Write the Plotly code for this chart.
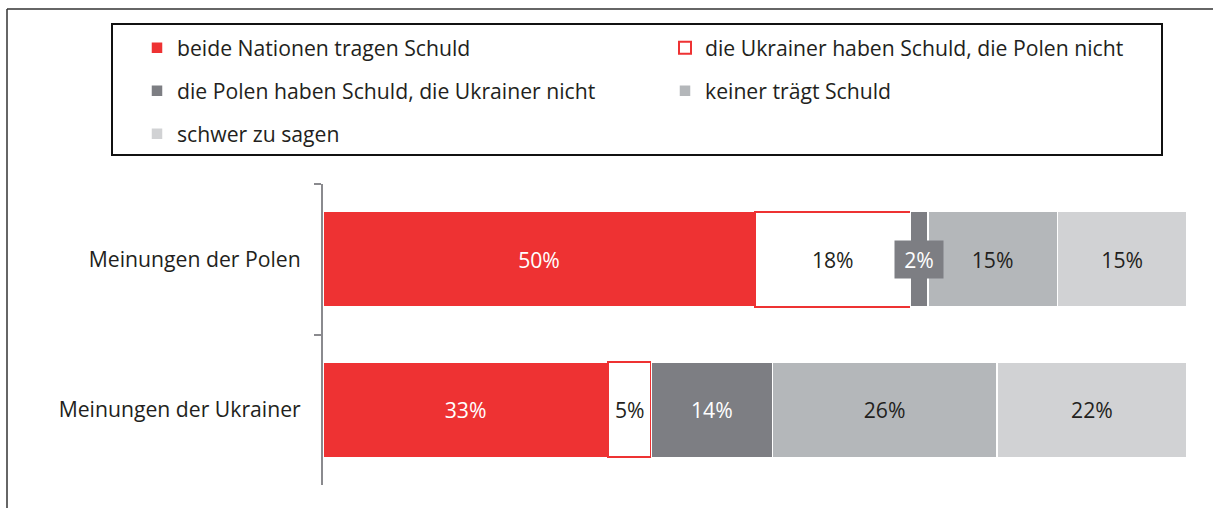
import plotly.graph_objects as go

categories = ["Meinungen der Polen", "Meinungen der Ukrainer"]
series_names = [
    "beide Nationen tragen Schuld",
    "die Ukrainer haben Schuld, die Polen nicht",
    "die Polen haben Schuld, die Ukrainer nicht",
    "keiner trägt Schuld",
    "schwer zu sagen",
]
values = [
    [50, 33],
    [18, 5],
    [2, 14],
    [15, 26],
    [15, 22],
]
fill_colors = ["#EE3233", "#FFFFFF", "#7D7E83", "#B4B7BA", "#D1D2D4"]
line_colors = ["#FFFFFF", "#EE3233", "#FFFFFF", "#FFFFFF", "#FFFFFF"]
line_widths = [1.5, 2, 1.5, 1.5, 1.5]
text_colors = ["#FFFFFF", "#231F20", "#FFFFFF", "#231F20", "#231F20"]
legend_ids = ["legend", "legend", "legend2", "legend2", "legend3"]

FONT = "Open Sans"
FS = 21.2
W, H = 1213, 508
L, R, T, B = 323, 26, 184, 23
PW, PH = W - L - R, H - T - B


def px_x(px):
    return (px - L) / PW


def px_y(py):
    return (H - B - py) / PH


fig = go.Figure()
small_labels = []
for i, name in enumerate(series_names):
    vals = values[i]
    texts = []
    for j, v in enumerate(vals):
        if v < 3:
            texts.append("")
            base = sum(values[k][j] for k in range(i))
            small_labels.append((base + v / 2, categories[j], f"{v}%", fill_colors[i], text_colors[i]))
        else:
            texts.append(f"{v}%")
    fig.add_trace(go.Bar(
        name=name,
        y=categories,
        x=vals,
        orientation="h",
        text=texts,
        textposition="inside",
        insidetextanchor="middle",
        textangle=0,
        textfont=dict(family=FONT, size=FS, color=text_colors[i]),
        marker=dict(color=fill_colors[i], line=dict(color=line_colors[i], width=line_widths[i])),
        legend=legend_ids[i],
        hoverinfo="skip",
    ))

for x, y, t, bg, fc in small_labels:
    fig.add_annotation(
        x=x, y=y, xref="x", yref="y", text=t, showarrow=False,
        font=dict(family=FONT, size=FS, color=fc),
        bgcolor=bg, width=48, height=37, borderpad=0,
    )

legend_common = dict(
    orientation="h",
    xanchor="left",
    yanchor="middle",
    x=px_x(137),
    entrywidth=483,
    entrywidthmode="pixels",
    font=dict(family=FONT, size=FS, color="#231F20"),
    bgcolor="rgba(0,0,0,0)",
    borderwidth=0,
    traceorder="normal",
)

fig.update_layout(
    width=W, height=H,
    margin=dict(l=L, r=R, t=T, b=B, autoexpand=False),
    paper_bgcolor="white",
    plot_bgcolor="white",
    barmode="stack",
    bargap=0.367,
    uniformtext=dict(minsize=FS, mode="show"),
    font=dict(family=FONT, size=FS, color="#231F20"),
    showlegend=True,
    legend=dict(legend_common, y=px_y(48)),
    legend2=dict(legend_common, y=px_y(91)),
    legend3=dict(legend_common, y=px_y(134)),
    xaxis=dict(range=[0, 100], visible=False, fixedrange=True),
    yaxis=dict(
        autorange="reversed",
        showline=True, linecolor="#8A8A8E", linewidth=2,
        ticks="outside", tickson="boundaries", ticklen=7, tickcolor="#8A8A8E", tickwidth=2,
        tickfont=dict(family=FONT, size=FS, color="#231F20"),
        ticklabelstandoff=16,
        showgrid=False, zeroline=False,
    ),
    shapes=[
        dict(type="rect", xref="paper", yref="paper",
             x0=px_x(112), x1=px_x(1162), y0=px_y(24), y1=px_y(155),
             line=dict(color="#111111", width=2), fillcolor="rgba(0,0,0,0)", layer="below"),
        dict(type="line", xref="paper", yref="paper",
             x0=px_x(7), x1=px_x(1215), y0=px_y(9), y1=px_y(9),
             line=dict(color="#333333", width=1.5)),
        dict(type="line", xref="paper", yref="paper",
             x0=px_x(7), x1=px_x(7), y0=px_y(9), y1=px_y(512),
             line=dict(color="#333333", width=1.5)),
    ],
)

fig.write_html("out.html", config={"displayModeBar": False},
               post_script="document.body.style.margin='0px';")
